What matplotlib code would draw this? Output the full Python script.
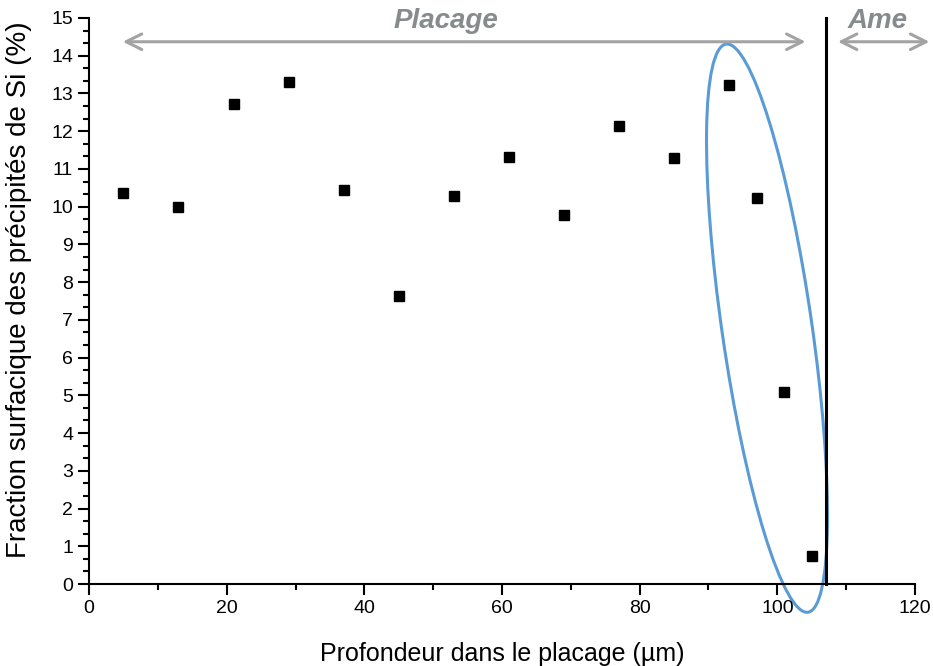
import numpy as np
import matplotlib
matplotlib.use("Agg")
from matplotlib import pyplot as plt
from matplotlib.patches import Ellipse
from matplotlib.ticker import MultipleLocator, AutoMinorLocator
from matplotlib.transforms import ScaledTranslation

plt.rcParams['font.family'] = ['Liberation Sans', 'DejaVu Sans']

# depth in the cladding (um) and Si precipitate area fraction (%)
depth = [5, 13, 21, 29, 37, 45, 53, 61, 69, 77, 85, 93, 97, 101, 105]
fraction = [10.36, 9.99, 12.72, 13.30, 10.44, 7.63, 10.28, 11.32, 9.78, 12.14,
            11.29, 13.22, 10.23, 5.09, 0.74]

interface_depth = 107
x_ticks = [0, 20, 40, 60, 80, 100, 120]
y_ticks = list(range(0, 16))

fig = plt.figure(figsize=(9.33, 6.66), dpi=100)
ax = fig.add_axes([0.0954, 0.1231, 0.8853, 0.8499])

ax.plot(depth, fraction, 's', color='black', markersize=7, zorder=3)

# clad / core interface
ax.plot([interface_depth, interface_depth], [0, 15], color='black', lw=2.2, clip_on=False)

# region arrows
grey = '#a3a3a3'
ax.annotate('', xy=(4.5, 14.37), xytext=(104.5, 14.37), annotation_clip=False,
            arrowprops=dict(arrowstyle='<->', color=grey, lw=2.2, mutation_scale=28))
ax.annotate('', xy=(108.4, 14.37), xytext=(122.5, 14.37), annotation_clip=False,
            arrowprops=dict(arrowstyle='<->', color=grey, lw=2.2, mutation_scale=28))
ax.text(51.9, 14.93, 'Placage', ha='center', va='center', fontsize=20,
        fontweight='bold', fontstyle='italic', color='#868b8e')
ax.text(114.6, 14.93, 'Ame', ha='center', va='center', fontsize=20,
        fontweight='bold', fontstyle='italic', color='#868b8e', clip_on=False)

# highlight of the last points (ellipse in inches, centred on data point)
ell = Ellipse((0, 0), width=0.9, height=5.74, angle=8.2, fill=False,
              edgecolor='#5b9bd5', lw=2.2, clip_on=False,
              transform=fig.dpi_scale_trans + ScaledTranslation(98.5, 6.78, ax.transData))
ax.add_patch(ell)

ax.set_xlim(0, 120)
ax.set_ylim(0, 15)
ax.set_xticks(x_ticks)
ax.set_yticks(y_ticks)
ax.xaxis.set_minor_locator(MultipleLocator(10))
ax.yaxis.set_minor_locator(AutoMinorLocator(3))
ax.tick_params(which='major', direction='out', length=8, width=1.5, labelsize=14, color='black')
ax.tick_params(which='minor', direction='out', length=4, width=1.5, color='black')
for side in ['top', 'right']:
    ax.spines[side].set_visible(False)
for side in ['left', 'bottom']:
    ax.spines[side].set_linewidth(1.5)

ax.set_xlabel('Profondeur dans le placage (µm)', fontsize=18, labelpad=18)
ax.set_ylabel('Fraction surfacique des précipités de Si (%)', fontsize=20)
ax.yaxis.set_label_coords(-0.069, 0.52)

fig.savefig('out.png', dpi=100)
